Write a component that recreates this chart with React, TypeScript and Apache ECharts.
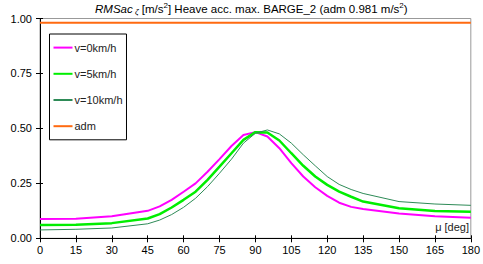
import React, { useEffect, useRef } from "react";
import * as echarts from "echarts";

const angles = [0, 15, 30, 45, 50, 55, 60, 65, 70, 75, 80, 85, 90, 95, 100, 105, 110, 115, 120, 125, 130, 135, 150, 165, 180];
const v0 = [0.088, 0.089, 0.1, 0.125, 0.145, 0.175, 0.212, 0.25, 0.303, 0.36, 0.42, 0.47, 0.483, 0.463, 0.41, 0.342, 0.281, 0.232, 0.193, 0.162, 0.143, 0.133, 0.113, 0.1, 0.093];
const v5 = [0.061, 0.062, 0.069, 0.09, 0.11, 0.14, 0.175, 0.212, 0.266, 0.326, 0.387, 0.448, 0.483, 0.481, 0.445, 0.387, 0.33, 0.281, 0.243, 0.212, 0.189, 0.167, 0.137, 0.124, 0.121];
const v10 = [0.038, 0.041, 0.047, 0.066, 0.083, 0.108, 0.141, 0.182, 0.235, 0.296, 0.36, 0.433, 0.478, 0.493, 0.475, 0.433, 0.38, 0.33, 0.281, 0.245, 0.222, 0.204, 0.167, 0.156, 0.15];
const admValue = 0.981;
const xTicks = [0, 15, 30, 45, 60, 75, 90, 105, 120, 135, 150, 165, 180];

const FONT = "Liberation Sans, Arial, Helvetica, sans-serif";

export default function App() {
  const ref = useRef<HTMLDivElement>(null);
  useEffect(() => {
    if (!ref.current) return;
    const chart = echarts.init(ref.current, null, { renderer: "svg" });
    const pair = (ys: number[]) => angles.map((a, i) => [a, ys[i]]);
    const axisCommon = {
      type: "value",
      splitLine: { show: false },
    };
    const base = { color: "#000", fontFamily: FONT, fontWeight: "normal" };
    chart.setOption({
      animation: false,
      textStyle: { fontFamily: FONT },
      title: {
        left: 95,
        top: 1,
        padding: 0,
        text: "{i|RMSac}{sub| ζ}{n| [m/s}{sup|2}{n|] Heave acc. max. BARGE_2 (adm 0.981 m/s}{sup|2}{n|)}",
        textStyle: {
          fontWeight: "normal",
          rich: {
            i: { ...base, fontSize: 11.5, fontStyle: "italic", verticalAlign: "bottom", lineHeight: 14 },
            n: { ...base, fontSize: 11.5, verticalAlign: "bottom", lineHeight: 14 },
            sub: { ...base, fontSize: 8, fontStyle: "italic", verticalAlign: "bottom", lineHeight: 10 },
            sup: { ...base, fontSize: 8, verticalAlign: "top", lineHeight: 10 },
          },
        },
      },
      grid: {
        left: 40,
        right: 10.5,
        top: 18.5,
        bottom: 25.7,
        show: true,
        borderColor: "#999",
        borderWidth: 1,
        backgroundColor: "transparent",
      },
      legend: {
        orient: "vertical",
        left: 49.5,
        top: 34,
        width: 76,
        padding: [8, 4, 8, 3],
        itemGap: 15,
        itemWidth: 19,
        itemHeight: 14,
        borderColor: "#000",
        borderWidth: 1,
        backgroundColor: "#fff",
        itemStyle: { opacity: 0 },
        textStyle: { fontSize: 11, color: "#222", fontFamily: FONT, padding: [0, 0, 0, -3] },
        data: ["v=0km/h", "v=5km/h", "v=10km/h", "adm"],
      },
      xAxis: [
        {
          ...axisCommon,
          min: 0,
          max: 180,
          interval: 15,
          axisLine: { show: true, lineStyle: { color: "#000", width: 1 } },
          axisTick: { show: true, inside: false, length: 4, lineStyle: { color: "#000" } },
          axisLabel: { fontSize: 11, color: "#000", margin: 6, fontFamily: FONT, customValues: xTicks },
        },
        {
          ...axisCommon,
          position: "bottom",
          min: 0,
          max: 180,
          interval: 15,
          axisLine: { show: false },
          axisTick: { show: true, inside: true, length: 3, lineStyle: { color: "#000" } },
          axisLabel: { show: false },
        },
      ],
      yAxis: [
        {
          ...axisCommon,
          min: 0,
          max: 1,
          interval: 0.25,
          axisLine: { show: true, lineStyle: { color: "#000", width: 1 } },
          axisTick: { show: true, inside: false, length: 4, lineStyle: { color: "#000" } },
          axisLabel: {
            fontSize: 11,
            color: "#000",
            margin: 8,
            fontFamily: FONT,
            formatter: (v: number) => v.toFixed(2),
          },
        },
        {
          ...axisCommon,
          position: "left",
          min: 0,
          max: 1,
          interval: 0.25,
          axisLine: { show: false },
          axisTick: { show: true, inside: true, length: 3, lineStyle: { color: "#000" } },
          axisLabel: { show: false },
        },
      ],
      graphic: [
        {
          type: "text",
          right: 14,
          top: 221,
          style: { text: "μ [deg]", fontSize: 11, fill: "#222", fontFamily: FONT },
        },
      ],
      series: [
        {
          name: "v=0km/h",
          type: "line",
          data: pair(v0),
          symbol: "none",
          lineStyle: { color: "#ff00ff", width: 2 },
          itemStyle: { color: "#ff00ff" },
        },
        {
          name: "v=5km/h",
          type: "line",
          data: pair(v5),
          symbol: "none",
          lineStyle: { color: "#00ee00", width: 2.5 },
          itemStyle: { color: "#00ee00" },
        },
        {
          name: "v=10km/h",
          type: "line",
          data: pair(v10),
          symbol: "none",
          lineStyle: { color: "#2e8b57", width: 1 },
          itemStyle: { color: "#2e8b57" },
        },
        {
          name: "adm",
          type: "line",
          data: [
            [0, admValue],
            [180, admValue],
          ],
          symbol: "none",
          lineStyle: { color: "#ff6a10", width: 2 },
          itemStyle: { color: "#ff6a10" },
        },
      ],
    });
    return () => chart.dispose();
  }, []);
  return (
    <div
      ref={ref}
      style={{ position: "fixed", left: 0, top: 0, width: 483, height: 264, background: "#fff" }}
    />
  );
}
